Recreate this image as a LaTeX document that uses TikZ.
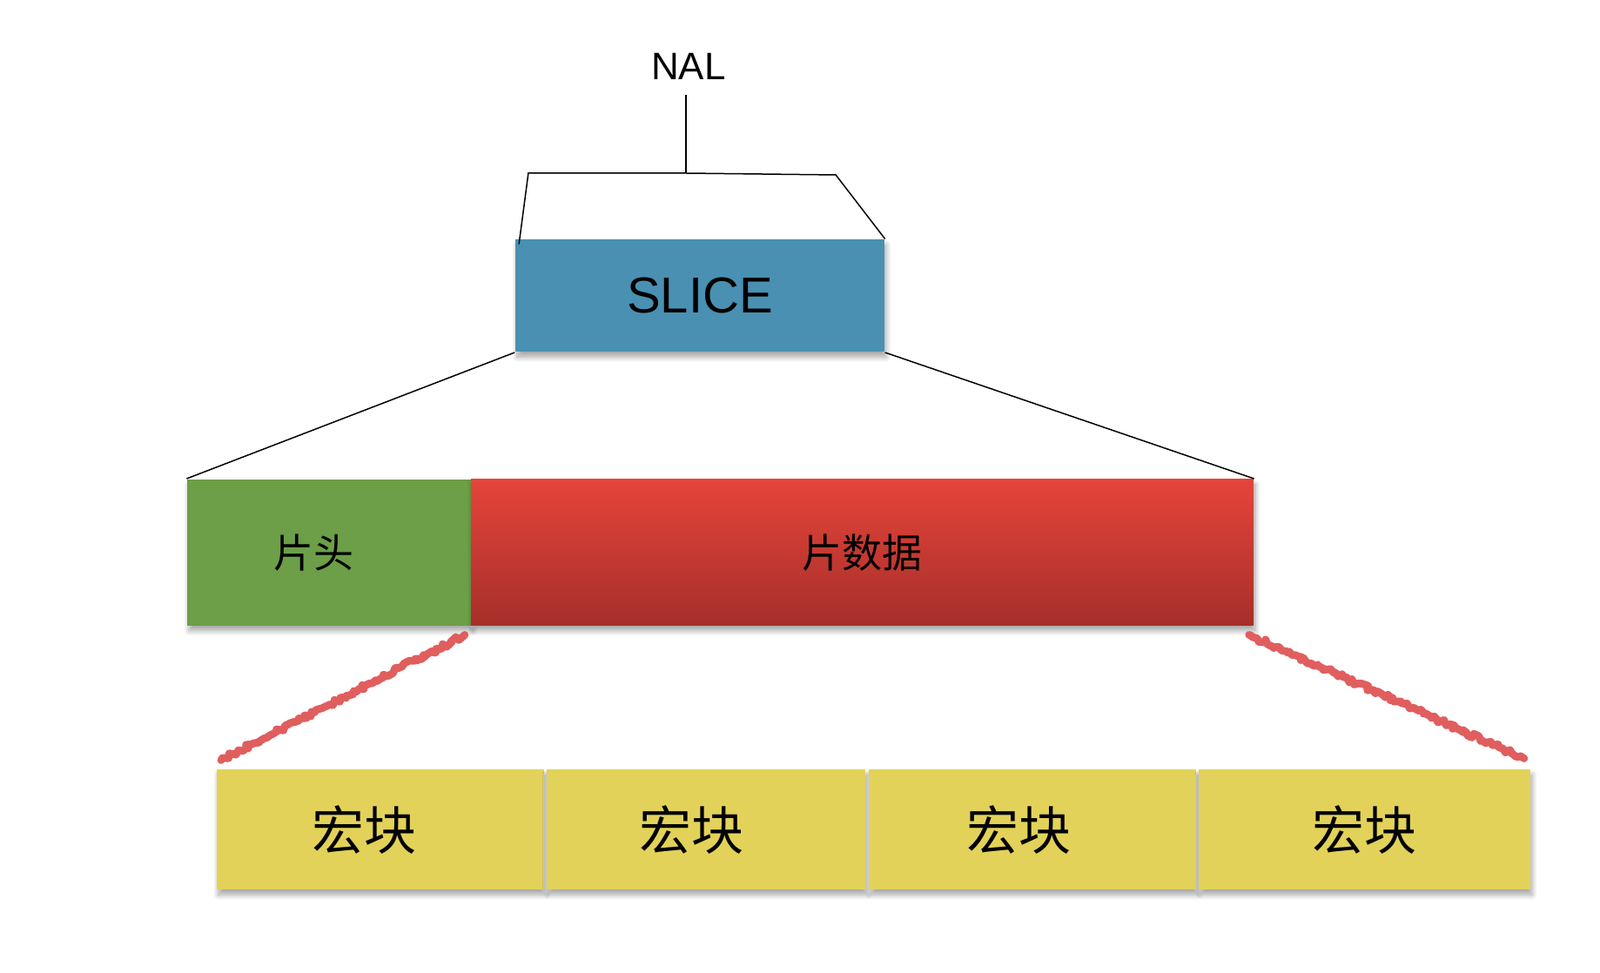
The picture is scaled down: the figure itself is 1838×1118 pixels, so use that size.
\documentclass[tikz,border=0pt]{standalone}
\usepackage{fontspec}
\setmainfont{Liberation Sans}
\newfontfamily\cjk{Noto Sans CJK SC}
\usetikzlibrary{shadows.blur,decorations.pathmorphing}

\definecolor{sliceblue}{HTML}{4A90B2}
\definecolor{headgreen}{HTML}{6C9F48}
\definecolor{datatop}{HTML}{E5443A}
\definecolor{databot}{HTML}{A62F2A}
\definecolor{mbyellow}{HTML}{E2D25A}
\definecolor{wavered}{HTML}{E05E5E}

\tikzset{
  part/.style={inner sep=0pt, blur shadow={shadow blur steps=8, shadow xshift=1pt,
    shadow yshift=-3pt, shadow blur radius=3pt, shadow opacity=35}},
  mb/.style={part, fill=mbyellow, minimum height=69pt, font=\cjk\fontsize{30}{34}\selectfont},
  wavy/.style={wavered, line width=4.4pt, line join=round, line cap=round, decorate,
    decoration={random steps, segment length=1.6pt, amplitude=1.4pt}}
}

\begin{document}
\begin{tikzpicture}[x=0.5pt, y=-0.5pt, line width=0.75pt]
\useasboundingbox (0,0) rectangle (1838,1118);

\begin{scope}[scale=0.995]
\node (nal) at (795,77) {\fontsize{22}{26}\selectfont NAL};

\node [part, fill=sliceblue, minimum width=212pt, minimum height=64.5pt,
  font=\fontsize{29}{33}\selectfont] (slice) at (808,341.5) {SLICE};

% header and data of the slice
\node [part, fill=headgreen, minimum width=163pt, minimum height=84pt,
  font=\cjk\fontsize{23}{27}\selectfont] (head) at (380,638) {片头\kern18pt};
\node [part, top color=datatop, bottom color=databot, minimum width=449.5pt,
  minimum height=84pt, font=\cjk\fontsize{23}{27}\selectfont] (data) at (995.5,638) {片数据};

% macroblocks
\node [mb, minimum width=188pt] (mb1) at (439,958) {宏块\kern18pt};
\node [mb, minimum width=183pt] (mb2) at (815,958) {宏块\kern16pt};
\node [mb, minimum width=188pt] (mb3) at (1192,958) {宏块\kern16pt};
\node [mb, minimum width=190.5pt] (mb4) at (1575.5,958) {宏块};

% bracket from NAL
\coordinate (brk) at (792,200);
\coordinate (brkl) at (610,200);
\coordinate (brkr) at (965,202);
\draw ([yshift=-5pt]brk |- nal.south) -- (brk);
\draw (brk) -- (brkl) -- ([xshift=2.5pt,yshift=-3pt]slice.north west);
\draw (brk) -- (brkr) -- (slice.north east);

\draw (slice.south west) -- (head.north west);
\draw (slice.south east) -- (data.north east);

\draw [wavy] ([xshift=-4pt,yshift=-5pt]head.south east) -- ([xshift=3pt,yshift=5pt]mb1.north west);
\draw [wavy] ([xshift=-3pt,yshift=-5pt]data.south east) -- ([xshift=-4pt,yshift=6pt]mb4.north east);
\end{scope}

\end{tikzpicture}
\end{document}
